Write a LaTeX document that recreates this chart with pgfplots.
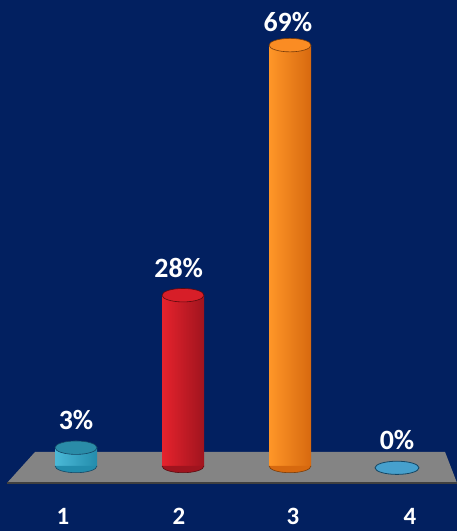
\documentclass[border=0pt]{standalone}
\usepackage{pgfplots}
\pgfplotsset{compat=1.18}
\usepackage{fontspec}
\setmainfont{Carlito}
\definecolor{bg}{RGB}{2,32,96}
\definecolor{floorgray}{RGB}{132,132,132}
\definecolor{cyL}{RGB}{75,185,215}
\definecolor{cyR}{RGB}{35,140,172}
\definecolor{cyTop}{RGB}{42,140,168}
\definecolor{cyLine}{RGB}{20,70,100}
\definecolor{rdL}{RGB}{230,35,45}
\definecolor{rdR}{RGB}{160,20,30}
\definecolor{rdTop}{RGB}{215,30,40}
\definecolor{rdLine}{RGB}{90,10,15}
\definecolor{orL}{RGB}{255,150,40}
\definecolor{orR}{RGB}{215,105,15}
\definecolor{orTop}{RGB}{250,140,35}
\definecolor{orLine}{RGB}{120,60,10}
\definecolor{zeroFill}{RGB}{70,160,205}
\pgfdeclareplotmark{lowhalf}{%
  \pgfpathmoveto{\pgfqpoint{-\pgfplotmarksize}{0pt}}%
  \pgfpatharc{180}{360}{\pgfplotmarksize and 0.32\pgfplotmarksize}%
  \pgfpathclose
  \pgfusepathqfill
  \pgfpathmoveto{\pgfqpoint{-\pgfplotmarksize}{0pt}}%
  \pgfpatharc{180}{360}{\pgfplotmarksize and 0.32\pgfplotmarksize}%
  \pgfusepathqstroke
}
\begin{document}
\begin{tikzpicture}
\fill[bg] (0,0) rectangle (457bp,531bp);
\begin{axis}[at={(0,0)}, anchor=south west, width=457bp, height=531bp, scale only axis,
  xmin=0.2897, xmax=4.5607, ymin=-10.66, ymax=76.4, hide axis, clip=false]
% floor
\addplot[fill=floorgray, draw=none] coordinates {(0.355,-2.79) (0.617,2.30) (4.449,2.30) (4.561,-2.79)} -- cycle;
\addplot[draw=black!75, line width=1.2pt] coordinates {(0.355,-2.79) (4.561,-2.79)};
% bar 1
\addplot[ybar, bar width=42bp, bar shift=0pt, draw=none, left color=cyL, right color=cyR] coordinates {(1,3)};
\addplot[only marks, mark=lowhalf, mark size=21bp, mark options={fill=cyR, draw=cyLine, line width=0.6pt}] coordinates {(1,0)};
\addplot[only marks, mark=*, mark size=21bp, mark options={yscale=0.32, fill=cyTop, draw=cyLine, line width=0.6pt}] coordinates {(1,3)};
% bar 2
\addplot[ybar, bar width=42bp, bar shift=0pt, draw=none, left color=rdL, right color=rdR] coordinates {(2,28)};
\addplot[only marks, mark=lowhalf, mark size=21bp, mark options={fill=rdR, draw=rdLine, line width=0.6pt}] coordinates {(2,0)};
\addplot[only marks, mark=*, mark size=21bp, mark options={yscale=0.32, fill=rdTop, draw=rdLine, line width=0.6pt}] coordinates {(2,28)};
% bar 3
\addplot[ybar, bar width=42bp, bar shift=0pt, draw=none, left color=orL, right color=orR] coordinates {(3,69)};
\addplot[only marks, mark=lowhalf, mark size=21bp, mark options={fill=orR, draw=orLine, line width=0.6pt}] coordinates {(3,0)};
\addplot[only marks, mark=*, mark size=21bp, mark options={yscale=0.32, fill=orTop, draw=orLine, line width=0.6pt}] coordinates {(3,69)};
% bar 4 (0%)
\addplot[only marks, mark=*, mark size=22bp, mark options={yscale=0.3, fill=zeroFill, draw=cyLine, line width=0.8pt}] coordinates {(4,-0.3)};
% value labels
\node[text=white, font=\fontsize{28}{28}\selectfont\bfseries] at (axis cs:1,7.5) {3\%};
\node[text=white, font=\fontsize{28}{28}\selectfont\bfseries] at (axis cs:1.96,32.5) {28\%};
\node[text=white, font=\fontsize{28}{28}\selectfont\bfseries] at (axis cs:2.98,72.8) {69\%};
\node[text=white, font=\fontsize{28}{28}\selectfont\bfseries] at (axis cs:4.0,4.3) {0\%};
% category labels
\node[text=white, font=\fontsize{25}{25}\selectfont\bfseries] at (axis cs:0.879,-8.2) {1};
\node[text=white, font=\fontsize{25}{25}\selectfont\bfseries] at (axis cs:1.963,-8.2) {2};
\node[text=white, font=\fontsize{25}{25}\selectfont\bfseries] at (axis cs:3.028,-8.2) {3};
\node[text=white, font=\fontsize{25}{25}\selectfont\bfseries] at (axis cs:4.121,-8.2) {4};
\end{axis}
\end{tikzpicture}
\end{document}
